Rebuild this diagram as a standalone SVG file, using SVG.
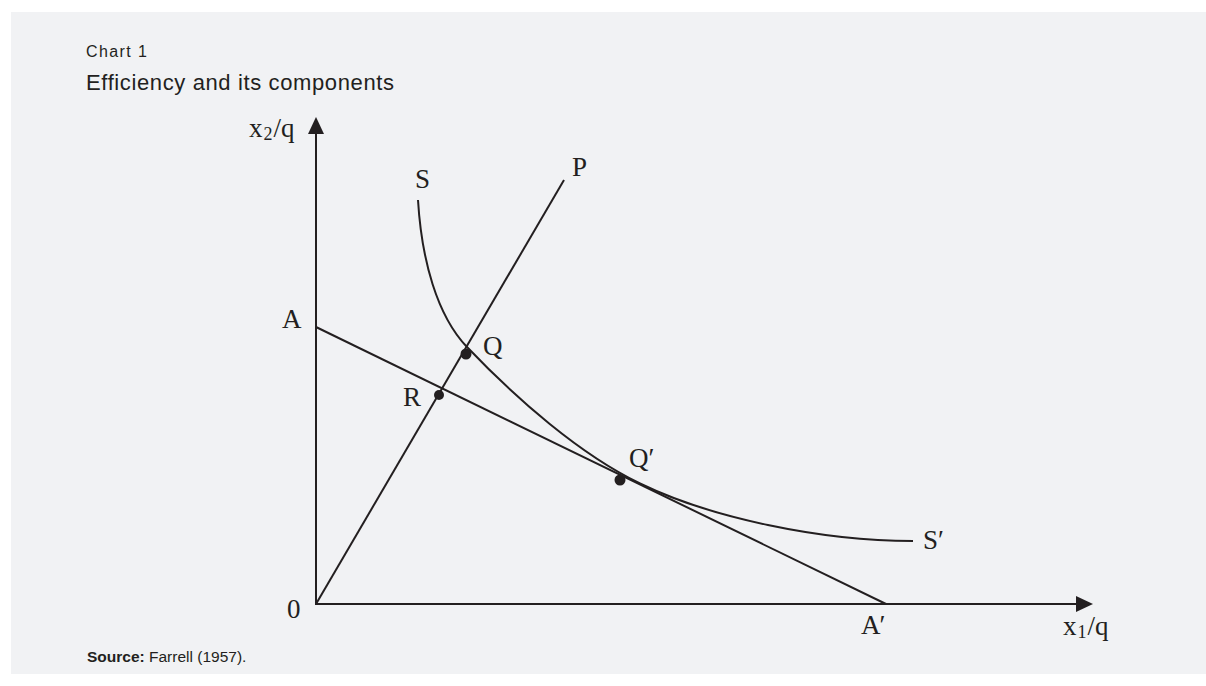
<svg xmlns="http://www.w3.org/2000/svg" width="1206" height="686" viewBox="0 0 1206 686">
<style>
.bg{fill:#f1f2f4}
.ln{fill:none;stroke:#231f20;stroke-width:2}
.dot{fill:#231f20}
.ah{fill:#231f20}
.lbl{font-family:"Liberation Serif","Times New Roman",serif;font-size:27px;fill:#231f20}
.sub{font-size:18px}
.ttl{font-family:"Liberation Sans",Arial,sans-serif;fill:#231f20}
</style>
<rect class="bg" x="11" y="12" width="1195" height="662"/>
<g id="title">
<text class="ttl" x="86" y="57" font-size="16" textLength="61">Chart  1</text>
<text class="ttl" x="86" y="90" font-size="22" textLength="308">Efficiency and its components</text>
</g>
<g id="connectors">
<line class="ln" x1="316" y1="605" x2="316" y2="130"/>
<polygon class="ah" points="316,117 308,134 324,134"/>
<line class="ln" x1="315" y1="604" x2="1080" y2="604"/>
<polygon class="ah" points="1093,604 1076,596 1076,612"/>
<line id="line-P" class="ln" x1="316" y1="604" x2="564" y2="180"/>
<line id="line-AA" class="ln" x1="316" y1="327" x2="886" y2="604"/>
<path id="curve-S" class="ln" d="M418,200 C421.6,260 437,315.5 467,347 C517,399.5 580,454.3 640,483.5 C710,517.5 820,541 913,541"/>
</g>
<g id="node-Q"><circle class="dot" cx="466" cy="354" r="5.5"/><text class="lbl" x="483" y="355">Q</text></g>
<g id="node-R"><circle class="dot" cx="439" cy="395" r="5"/><text class="lbl" x="403" y="406">R</text></g>
<g id="node-Qp"><circle class="dot" cx="620" cy="480" r="5.5"/><text class="lbl" x="629" y="467">Q′</text></g>
<g id="node-A"><text class="lbl" x="282" y="328">A</text></g>
<g id="node-Ap"><text class="lbl" x="861" y="634">A<tspan dx="-1">′</tspan></text></g>
<g id="node-O"><text class="lbl" x="287" y="618">0</text></g>
<g id="node-S"><text class="lbl" x="415" y="188">S</text></g>
<g id="node-Sp"><text class="lbl" x="923" y="549">S′</text></g>
<g id="node-P"><text class="lbl" x="572" y="176">P</text></g>
<g id="axis-y-label"><text class="lbl" x="249" y="137" font-size="28">x<tspan class="sub" dx="1" dy="3">2</tspan><tspan dx="1" dy="-3">/q</tspan></text></g>
<g id="axis-x-label"><text class="lbl" x="1063" y="635" font-size="28">x<tspan class="sub" dx="1" dy="3">1</tspan><tspan dx="1" dy="-3">/q</tspan></text></g>
<g id="source"><text class="ttl" x="87" y="662" font-size="15.5"><tspan font-weight="bold">Source:</tspan> Farrell (1957).</text></g>
</svg>
